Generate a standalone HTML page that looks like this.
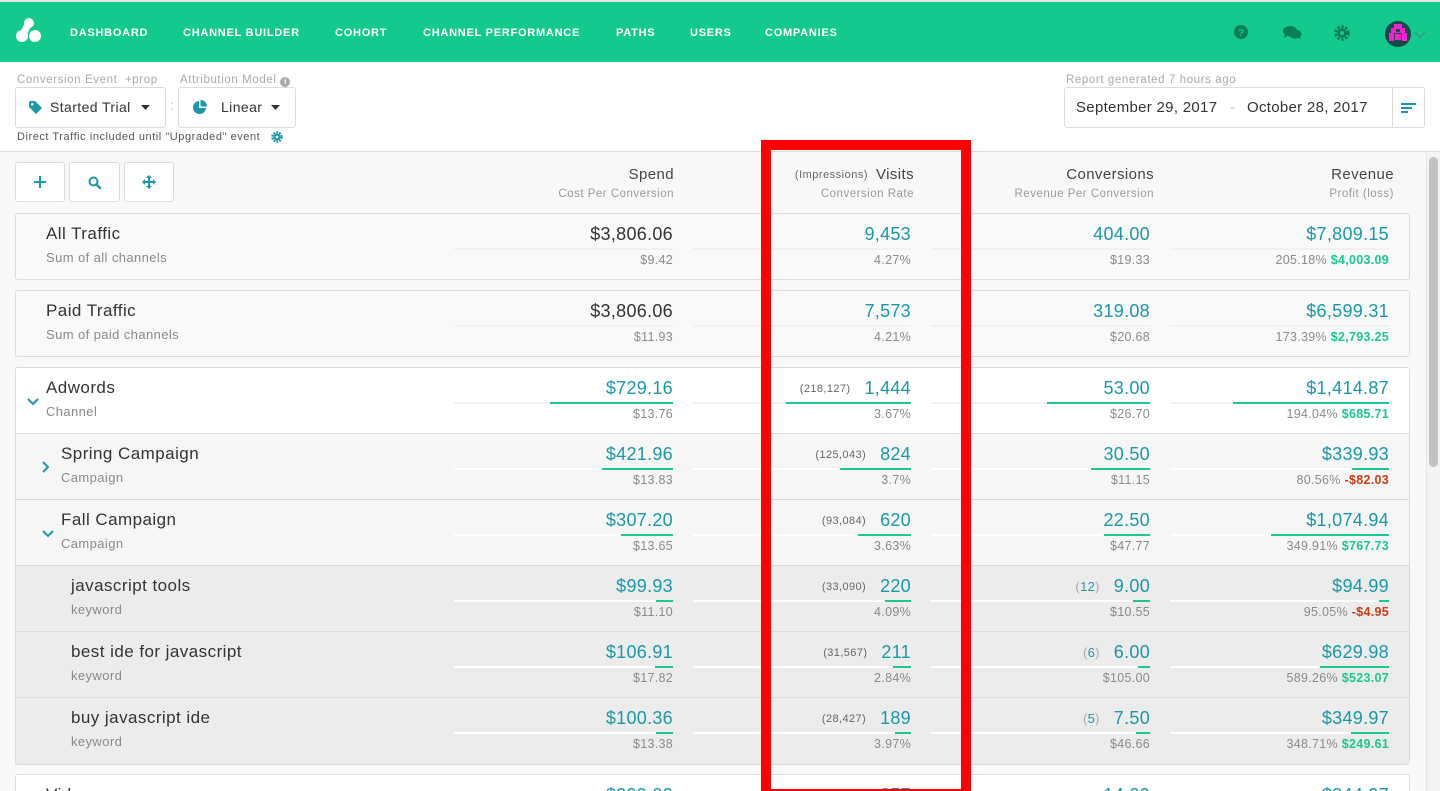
<!DOCTYPE html>
<html><head><meta charset="utf-8"><style>
*{margin:0;padding:0;box-sizing:border-box}
html,body{width:1440px;height:791px;overflow:hidden}
body{background:#f8f8f8;font-family:"Liberation Sans",Arial,sans-serif;color:#333}
#wrap{position:relative;width:1440px;height:791px;overflow:hidden;background:#f8f8f8}
.a{position:absolute}
#nav{left:0;top:0;width:1440px;height:62px;background:#13c98e;border-top:2px solid #e4e4e4}
.ni{position:absolute;top:25px;color:#fff;font-size:11px;font-weight:bold;letter-spacing:.75px;line-height:12px;white-space:nowrap}
#top{left:0;top:62px;width:1440px;height:90px;background:#fff;border-bottom:1px solid #dcdcdc}
.lbl{position:absolute;font-size:11.5px;color:#a9a9a9;line-height:14px;white-space:nowrap;letter-spacing:.6px}
.dd{position:absolute;background:#fff;border:1px solid #dcdcdc;border-radius:3px}
.btn{position:absolute;top:162px;height:40px;background:#fff;border:1px solid #dcdcdc;border-radius:3px}
.hd{position:absolute;text-align:right;white-space:nowrap}
.hd .h1{font-size:15px;color:#454545;line-height:18px;letter-spacing:.4px}
.hd .h2{font-size:11.5px;color:#9a9a9a;line-height:14px;margin-top:3px;letter-spacing:.5px}
.card{position:absolute;left:15px;width:1395px;border:1px solid #dcdcdc;border-radius:3px;overflow:hidden}
.row{position:absolute;left:0;width:1440px;height:66px}
.t{position:absolute;top:9px;font-size:17px;line-height:24px;color:#333;letter-spacing:.45px;white-space:nowrap}
.st{position:absolute;top:36px;font-size:13px;line-height:18px;color:#8a8a8a;letter-spacing:.4px;white-space:nowrap}
.c{position:absolute;top:0;height:66px}
.c1{left:454px;width:219px}.c2{left:693px;width:218px}.c3{left:931px;width:219px}.c4{left:1170px;width:219px}
.v{position:absolute;right:0;top:9px;font-size:18px;line-height:24px;color:#1898a8;white-space:nowrap;letter-spacing:.3px}
.dk{color:#333}
.tk{position:absolute;left:0;right:0;top:35px;height:2px;background:#fff}
.b{position:absolute;right:0;top:35px;height:2px;background:#1ac98d}
.s{position:absolute;right:0;top:39px;font-size:12.5px;line-height:16px;color:#8a8a8a;white-space:nowrap;letter-spacing:.3px}
.pre{font-size:11px;color:#666;margin-right:14px;vertical-align:2px;letter-spacing:.4px}
.pc{font-size:13px;color:#aaa;margin-right:14px;vertical-align:1px}
.pc i{font-style:normal;color:#1898a8}
.g{color:#17c98a;font-weight:bold}
.r{color:#cc3d10;font-weight:bold}
.w .tk{background:#f1f1f1}
.tot .tk{background:#f1f1f1}
.vid .c{height:17px}
.vid .t,.vid .v{height:8px;overflow:hidden}
</style></head><body>
<div id="wrap">

<!-- NAV -->
<div id="nav" class="a">
  <svg class="a" style="left:14px;top:14px" width="30" height="28" viewBox="0 0 30 28">
    <line x1="15" y1="7" x2="8" y2="20" stroke="#fff" stroke-width="7" stroke-linecap="round"/>
    <circle cx="15" cy="7" r="5" fill="#fff"/>
    <circle cx="8" cy="20" r="6" fill="#fff"/>
    <circle cx="21" cy="20" r="6" fill="#fff"/>
  </svg>
  <div class="ni" style="left:70px">DASHBOARD</div>
  <div class="ni" style="left:183px">CHANNEL BUILDER</div>
  <div class="ni" style="left:335px">COHORT</div>
  <div class="ni" style="left:423px">CHANNEL PERFORMANCE</div>
  <div class="ni" style="left:616px">PATHS</div>
  <div class="ni" style="left:690px">USERS</div>
  <div class="ni" style="left:765px">COMPANIES</div>
  <svg class="a" style="left:1233px;top:22px" width="16" height="16" viewBox="0 0 16 16">
    <circle cx="8" cy="8" r="7" fill="#0b7d57"/>
    <text x="8" y="12" font-size="10" font-weight="bold" text-anchor="middle" fill="#13c98e" font-family="Liberation Sans">?</text>
  </svg>
  <svg class="a" style="left:1283px;top:23px" width="19" height="15" viewBox="0 0 19 15">
    <ellipse cx="7" cy="6" rx="7" ry="5" fill="#0b7d57"/>
    <polygon points="2,9 1,13 6,10" fill="#0b7d57"/>
    <ellipse cx="12" cy="9" rx="6.5" ry="4.5" fill="#0b7d57"/>
    <polygon points="16,11 18,14 13,12" fill="#0b7d57"/>
  </svg>
  <svg class="a" style="left:1334px;top:23px" width="16" height="16" viewBox="0 0 16 16">
    <circle cx="8" cy="8" r="6" fill="none" stroke="#0b7d57" stroke-width="3.5" stroke-dasharray="2.3 1.6"/>
    <circle cx="8" cy="8" r="4.5" fill="#0b7d57"/>
    <circle cx="8" cy="8" r="2" fill="#13c98e"/>
  </svg>
  <svg class="a" style="left:1384px;top:18px" width="28" height="28" viewBox="0 0 28 28">
    <circle cx="14" cy="14" r="13" fill="#154a48"/>
    <rect x="10" y="4" width="8" height="4" fill="#ff1fd0"/>
    <rect x="7" y="8" width="14" height="5" fill="#ff1fd0"/>
    <rect x="5" y="13" width="5" height="8" fill="#ff1fd0"/>
    <rect x="18" y="13" width="5" height="8" fill="#ff1fd0"/>
    <rect x="11" y="14" width="6" height="6" fill="#ff1fd0"/>
    <rect x="12" y="9" width="4" height="3" fill="#154a48"/>
  </svg>
  <svg class="a" style="left:1414px;top:29px" width="12" height="8" viewBox="0 0 12 8">
    <polyline points="1,1 6,6 11,1" fill="none" stroke="#3b9a78" stroke-width="1.5"/>
  </svg>
</div>

<!-- TOP CONTROLS -->
<div id="top" class="a"></div>
<div class="lbl" style="left:17px;top:73px">Conversion Event &nbsp;+prop</div>
<div class="lbl" style="left:180px;top:73px">Attribution Model <span style="display:inline-block;width:10px;height:10px;border-radius:5px;background:#aaa;color:#fff;font-size:8px;line-height:10px;text-align:center;font-weight:bold;vertical-align:-1px;letter-spacing:0">i</span></div>
<div class="dd" style="left:15px;top:87px;width:151px;height:41px">
  <svg class="a" style="left:13px;top:13px" width="13" height="13" viewBox="0 0 13 13">
    <polygon points="0,1 0,6 7,13 13,7 6,0 1,0" fill="#1898a8"/>
    <circle cx="3.3" cy="3.3" r="1.3" fill="#fff"/>
  </svg>
  <div class="a" style="left:34px;top:10px;font-size:14px;line-height:18px;color:#333;letter-spacing:.4px;white-space:nowrap">Started Trial</div>
  <svg class="a" style="left:125px;top:17px" width="9" height="5"><polygon points="0,0 9,0 4.5,5" fill="#333"/></svg>
</div>
<div class="a" style="left:170px;top:97px;font-size:14px;color:#ccc">:</div>
<div class="dd" style="left:178px;top:87px;width:118px;height:41px">
  <svg class="a" style="left:13px;top:12px" width="15" height="15" viewBox="0 0 15 15">
    <path d="M7,1 A6.5,6.5 0 1 0 14,8 L7,8 Z" fill="#1898a8"/>
    <path d="M8.5,0 A6.5,6.5 0 0 1 15,6.5 L8.5,6.5 Z" fill="#1898a8"/>
  </svg>
  <div class="a" style="left:42px;top:10px;font-size:14px;line-height:18px;color:#333;letter-spacing:.4px">Linear</div>
  <svg class="a" style="left:92px;top:17px" width="9" height="5"><polygon points="0,0 9,0 4.5,5" fill="#333"/></svg>
</div>
<div class="a" style="left:17px;top:131px;font-size:11px;line-height:13px;color:#555;white-space:nowrap;letter-spacing:.55px">Direct Traffic included until "Upgraded" event</div>
<svg class="a" style="left:271px;top:131px" width="12" height="12" viewBox="0 0 12 12">
  <circle cx="6" cy="6" r="4.5" fill="none" stroke="#1898a8" stroke-width="2.5" stroke-dasharray="1.8 1.1"/>
  <circle cx="6" cy="6" r="3.4" fill="#1898a8"/>
  <circle cx="6" cy="6" r="1.4" fill="#fff"/>
</svg>

<div class="lbl" style="left:1066px;top:73px">Report generated 7 hours ago</div>
<div class="dd" style="left:1064px;top:87px;width:361px;height:41px">
  <div class="a" style="left:11px;top:10px;font-size:15px;line-height:19px;color:#333;white-space:nowrap;letter-spacing:.3px">September 29, 2017</div>
  <div class="a" style="left:165px;top:10px;font-size:15px;line-height:19px;color:#bbb">-</div>
  <div class="a" style="left:182px;top:10px;font-size:15px;line-height:19px;color:#333;white-space:nowrap;letter-spacing:.3px">October 28, 2017</div>
  <div class="a" style="left:327px;top:0;width:1px;height:39px;background:#dcdcdc"></div>
  <div class="a" style="left:336px;top:15px;width:15px;height:2px;background:#1898a8"></div>
  <div class="a" style="left:336px;top:19px;width:11px;height:2px;background:#1898a8"></div>
  <div class="a" style="left:336px;top:23px;width:7px;height:2px;background:#1898a8"></div>
</div>

<!-- toolbar buttons -->
<div class="btn" style="left:15px;width:50px">
  <div class="a" style="left:18px;top:18px;width:12px;height:2px;background:#1898a8"></div>
  <div class="a" style="left:23px;top:13px;width:2px;height:12px;background:#1898a8"></div>
</div>
<div class="btn" style="left:69px;width:51px">
  <svg class="a" style="left:18px;top:13px" width="14" height="14" viewBox="0 0 14 14">
    <circle cx="5.5" cy="5.5" r="4" fill="none" stroke="#1898a8" stroke-width="2"/>
    <line x1="8.5" y1="8.5" x2="12" y2="12" stroke="#1898a8" stroke-width="2.4" stroke-linecap="round"/>
  </svg>
</div>
<div class="btn" style="left:124px;width:50px">
  <svg class="a" style="left:17px;top:12px" width="14" height="14" viewBox="0 0 14 14">
    <line x1="7" y1="1" x2="7" y2="13" stroke="#1898a8" stroke-width="2"/>
    <line x1="1" y1="7" x2="13" y2="7" stroke="#1898a8" stroke-width="2"/>
    <polygon points="7,0 4,3 10,3" fill="#1898a8"/><polygon points="7,14 4,11 10,11" fill="#1898a8"/>
    <polygon points="0,7 3,4 3,10" fill="#1898a8"/><polygon points="14,7 11,4 11,10" fill="#1898a8"/>
  </svg>
</div>

<!-- column headers -->
<div class="hd" style="right:766px;top:166px"><div class="h1">Spend</div><div class="h2">Cost Per Conversion</div></div>
<div class="hd" style="right:526px;top:166px"><div class="h1"><span style="font-size:11px;color:#666;margin-right:8px;vertical-align:1px;letter-spacing:.5px">(Impressions)</span>Visits</div><div class="h2">Conversion Rate</div></div>
<div class="hd" style="right:286px;top:166px"><div class="h1">Conversions</div><div class="h2">Revenue Per Conversion</div></div>
<div class="hd" style="right:46px;top:166px"><div class="h1">Revenue</div><div class="h2">Profit (loss)</div></div>

<!-- All Traffic -->
<div class="card" style="top:213px;height:67px;background:#f9f9f9"></div>
<div class="row tot" style="top:213px">
  <div class="t" style="left:46px">All Traffic</div><div class="st" style="left:46px">Sum of all channels</div>
  <div class="c c1"><div class="v dk">$3,806.06</div><div class="tk"></div><div class="s">$9.42</div></div>
  <div class="c c2"><div class="v">9,453</div><div class="tk"></div><div class="s">4.27%</div></div>
  <div class="c c3"><div class="v">404.00</div><div class="tk"></div><div class="s">$19.33</div></div>
  <div class="c c4"><div class="v">$7,809.15</div><div class="tk"></div><div class="s">205.18% <span class="g">$4,003.09</span></div></div>
</div>

<!-- Paid Traffic -->
<div class="card" style="top:290px;height:67px;background:#f9f9f9"></div>
<div class="row tot" style="top:290px">
  <div class="t" style="left:46px">Paid Traffic</div><div class="st" style="left:46px">Sum of paid channels</div>
  <div class="c c1"><div class="v dk">$3,806.06</div><div class="tk"></div><div class="s">$11.93</div></div>
  <div class="c c2"><div class="v">7,573</div><div class="tk"></div><div class="s">4.21%</div></div>
  <div class="c c3"><div class="v">319.08</div><div class="tk"></div><div class="s">$20.68</div></div>
  <div class="c c4"><div class="v">$6,599.31</div><div class="tk"></div><div class="s">173.39% <span class="g">$2,793.25</span></div></div>
</div>

<!-- Adwords group -->
<div class="card" style="top:367px;height:398px;background:#ececec">
  <div class="a" style="left:0;top:0;width:1395px;height:66px;background:#fff;border-bottom:1px solid #dcdcdc"></div>
  <div class="a" style="left:0;top:66px;width:1395px;height:66px;background:#f6f6f6;border-bottom:1px solid #dcdcdc"></div>
  <div class="a" style="left:0;top:132px;width:1395px;height:66px;background:#f6f6f6;border-bottom:1px solid #dcdcdc"></div>
  <div class="a" style="left:0;top:198px;width:1395px;height:66px;border-bottom:1px solid #dcdcdc"></div>
  <div class="a" style="left:0;top:264px;width:1395px;height:66px;border-bottom:1px solid #dcdcdc"></div>
</div>

<div class="row w" style="top:367px">
  <svg class="a" style="left:27px;top:31px" width="12" height="8"><polyline points="1,1 6,6 11,1" fill="none" stroke="#1898a8" stroke-width="2"/></svg>
  <div class="t" style="left:46px">Adwords</div><div class="st" style="left:46px">Channel</div>
  <div class="c c1"><div class="v">$729.16</div><div class="tk"></div><div class="b" style="width:123px"></div><div class="s">$13.76</div></div>
  <div class="c c2"><div class="v"><span class="pre">(218,127)</span>1,444</div><div class="tk"></div><div class="b" style="width:125px"></div><div class="s">3.67%</div></div>
  <div class="c c3"><div class="v">53.00</div><div class="tk"></div><div class="b" style="width:103px"></div><div class="s">$26.70</div></div>
  <div class="c c4"><div class="v">$1,414.87</div><div class="tk"></div><div class="b" style="width:156px"></div><div class="s">194.04% <span class="g">$685.71</span></div></div>
</div>

<div class="row" style="top:433px">
  <svg class="a" style="left:42px;top:28px" width="8" height="12"><polyline points="1,1 6,6 1,11" fill="none" stroke="#1898a8" stroke-width="2"/></svg>
  <div class="t" style="left:61px">Spring Campaign</div><div class="st" style="left:61px">Campaign</div>
  <div class="c c1"><div class="v">$421.96</div><div class="tk"></div><div class="b" style="width:71px"></div><div class="s">$13.83</div></div>
  <div class="c c2"><div class="v"><span class="pre">(125,043)</span>824</div><div class="tk"></div><div class="b" style="width:71px"></div><div class="s">3.7%</div></div>
  <div class="c c3"><div class="v">30.50</div><div class="tk"></div><div class="b" style="width:59px"></div><div class="s">$11.15</div></div>
  <div class="c c4"><div class="v">$339.93</div><div class="tk"></div><div class="b" style="width:37px"></div><div class="s">80.56% <span class="r">-$82.03</span></div></div>
</div>

<div class="row" style="top:499px">
  <svg class="a" style="left:42px;top:31px" width="12" height="8"><polyline points="1,1 6,6 11,1" fill="none" stroke="#1898a8" stroke-width="2"/></svg>
  <div class="t" style="left:61px">Fall Campaign</div><div class="st" style="left:61px">Campaign</div>
  <div class="c c1"><div class="v">$307.20</div><div class="tk"></div><div class="b" style="width:52px"></div><div class="s">$13.65</div></div>
  <div class="c c2"><div class="v"><span class="pre">(93,084)</span>620</div><div class="tk"></div><div class="b" style="width:53px"></div><div class="s">3.63%</div></div>
  <div class="c c3"><div class="v">22.50</div><div class="tk"></div><div class="b" style="width:46px"></div><div class="s">$47.77</div></div>
  <div class="c c4"><div class="v">$1,074.94</div><div class="tk"></div><div class="b" style="width:118px"></div><div class="s">349.91% <span class="g">$767.73</span></div></div>
</div>

<div class="row" style="top:565px">
  <div class="t" style="left:71px">javascript tools</div><div class="st" style="left:71px">keyword</div>
  <div class="c c1"><div class="v">$99.93</div><div class="tk"></div><div class="b" style="width:17px"></div><div class="s">$11.10</div></div>
  <div class="c c2"><div class="v"><span class="pre">(33,090)</span>220</div><div class="tk"></div><div class="b" style="width:26px"></div><div class="s">4.09%</div></div>
  <div class="c c3"><div class="v"><span class="pc">(<i>12</i>)</span>9.00</div><div class="tk"></div><div class="b" style="width:17px"></div><div class="s">$10.55</div></div>
  <div class="c c4"><div class="v">$94.99</div><div class="tk"></div><div class="b" style="width:10px"></div><div class="s">95.05% <span class="r">-$4.95</span></div></div>
</div>

<div class="row" style="top:631px">
  <div class="t" style="left:71px">best ide for javascript</div><div class="st" style="left:71px">keyword</div>
  <div class="c c1"><div class="v">$106.91</div><div class="tk"></div><div class="b" style="width:18px"></div><div class="s">$17.82</div></div>
  <div class="c c2"><div class="v"><span class="pre">(31,567)</span>211</div><div class="tk"></div><div class="b" style="width:18px"></div><div class="s">2.84%</div></div>
  <div class="c c3"><div class="v"><span class="pc">(<i>6</i>)</span>6.00</div><div class="tk"></div><div class="b" style="width:12px"></div><div class="s">$105.00</div></div>
  <div class="c c4"><div class="v">$629.98</div><div class="tk"></div><div class="b" style="width:69px"></div><div class="s">589.26% <span class="g">$523.07</span></div></div>
</div>

<div class="row" style="top:697px">
  <div class="t" style="left:71px">buy javascript ide</div><div class="st" style="left:71px">keyword</div>
  <div class="c c1"><div class="v">$100.36</div><div class="tk"></div><div class="b" style="width:17px"></div><div class="s">$13.38</div></div>
  <div class="c c2"><div class="v"><span class="pre">(28,427)</span>189</div><div class="tk"></div><div class="b" style="width:16px"></div><div class="s">3.97%</div></div>
  <div class="c c3"><div class="v"><span class="pc">(<i>5</i>)</span>7.50</div><div class="tk"></div><div class="b" style="width:14px"></div><div class="s">$46.66</div></div>
  <div class="c c4"><div class="v">$349.97</div><div class="tk"></div><div class="b" style="width:38px"></div><div class="s">348.71% <span class="g">$249.61</span></div></div>
</div>

<!-- Video (clipped at frame bottom) -->
<div class="a" style="left:15px;top:774px;width:1395px;height:17px;background:#fff;border:1px solid #dcdcdc;border-bottom:0;border-radius:3px 3px 0 0"></div>
<div class="a vid" style="left:0;top:774px;width:1440px;height:17px;overflow:hidden">
  <div class="t" style="left:46px">Video</div>
  <div class="c c1"><div class="v">$299.00</div></div>
  <div class="c c2"><div class="v">277</div></div>
  <div class="c c3"><div class="v">14.00</div></div>
  <div class="c c4"><div class="v">$244.97</div></div>
</div>

<!-- scrollbar -->
<div class="a" style="left:1426px;top:152px;width:14px;height:639px;background:#f4f4f4;border-left:1px solid #e6e6e6"></div>
<div class="a" style="left:1429px;top:157px;width:9px;height:310px;background:#c2c2c2;border-radius:5px"></div>

<!-- red highlight box -->
<div class="a" style="left:761px;top:140px;width:210px;height:651px;border:10px solid #ff0000;border-bottom-width:2px"></div>

</div>
</body></html>
